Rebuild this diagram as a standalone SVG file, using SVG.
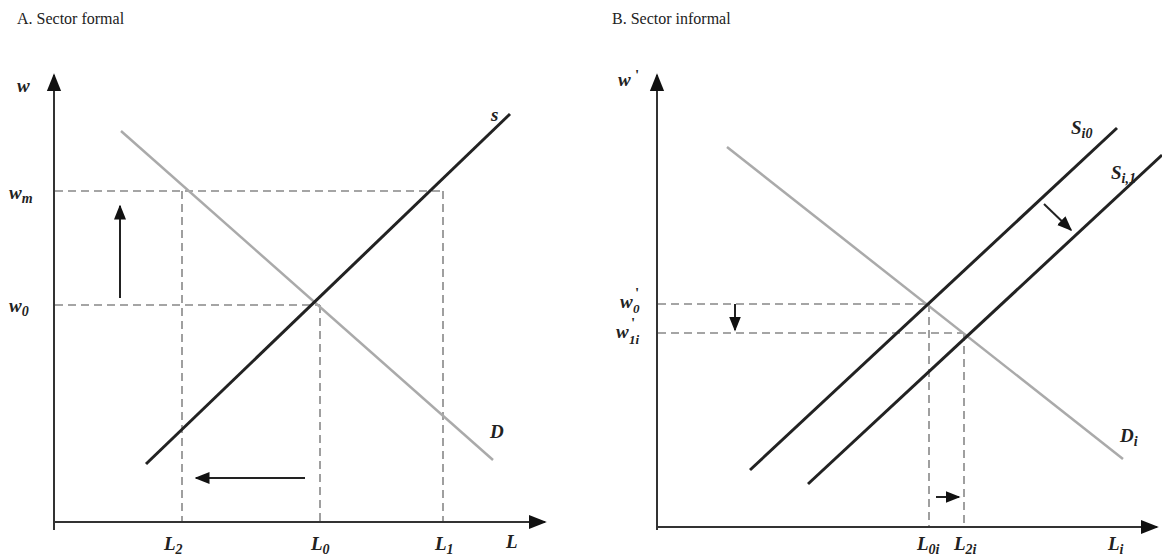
<svg xmlns="http://www.w3.org/2000/svg" width="1162" height="556" viewBox="0 0 1162 556">
<defs>
<marker id="axh" viewBox="0 0 10 10" refX="9" refY="5" markerWidth="18" markerHeight="18" markerUnits="userSpaceOnUse" orient="auto"><path d="M0,1 L10,5 L0,9 z" fill="#111"/></marker>
<marker id="sh" viewBox="0 0 10 10" refX="9" refY="5" markerWidth="15" markerHeight="15" markerUnits="userSpaceOnUse" orient="auto"><path d="M0,1 L10,5 L0,9 z" fill="#111"/></marker>
</defs>
<style>
.title{font-family:"Liberation Serif",serif;font-size:16px;fill:#222}
.lab{font-family:"Liberation Serif",serif;font-style:italic;font-weight:bold;font-size:19px;fill:#222}
.sub{font-size:14px}
.pr{font-family:"Liberation Serif",serif;font-weight:bold;font-size:15px;fill:#222}
.sb{font-family:"Liberation Serif",serif;font-style:italic;font-weight:bold;font-size:13px;fill:#222}
.axis{stroke:#333;stroke-width:2;fill:none}
.sup{stroke:#222;stroke-width:3;fill:none}
.dem{stroke:#aaa;stroke-width:2.5;fill:none}
.dash{stroke:#888;stroke-width:1.6;stroke-dasharray:8 5;fill:none}
.arr{stroke:#222;stroke-width:2;fill:none}
</style>
<rect width="1162" height="556" fill="#fff"/>
<text class="title" x="17" y="24">A. Sector formal</text>
<text class="title" x="612" y="24">B. Sector informal</text>

<g id="panelA">
<g id="A-connectors">
<line class="dash" x1="55" y1="191" x2="443" y2="191"/>
<line class="dash" x1="55" y1="305" x2="320" y2="305"/>
<line class="dash" x1="182" y1="191" x2="182" y2="521"/>
<line class="dash" x1="320" y1="305" x2="320" y2="521"/>
<line class="dash" x1="443" y1="191" x2="443" y2="521"/>
<line class="axis" x1="54" y1="530" x2="54" y2="75" marker-end="url(#axh)"/>
<line class="axis" x1="54" y1="522" x2="545" y2="522" marker-end="url(#axh)"/>
<line class="dem" x1="121" y1="131" x2="493" y2="460"/>
<line class="sup" x1="146" y1="464" x2="510" y2="114"/>
<line class="arr" x1="120" y1="298" x2="120" y2="206" marker-end="url(#sh)"/>
<line class="arr" x1="305" y1="478" x2="196" y2="478" marker-end="url(#sh)"/>
</g>
<g id="A-labels">
<text class="lab" x="17" y="92">w</text>
<text class="lab" x="9" y="199">w<tspan class="sub" dy="4">m</tspan></text>
<text class="lab" x="9" y="312">w<tspan class="sub" dy="4">0</tspan></text>
<text class="lab" x="491" y="121">s</text>
<text class="lab" x="490" y="438">D</text>
<text class="lab" x="164" y="550">L<tspan class="sub" dy="4">2</tspan></text>
<text class="lab" x="311" y="550">L<tspan class="sub" dy="4">0</tspan></text>
<text class="lab" x="435" y="550">L<tspan class="sub" dy="4">1</tspan></text>
<text class="lab" x="506" y="548">L</text>
</g>
</g>

<g id="panelB">
<g id="B-connectors">
<line class="dash" x1="658" y1="304" x2="929" y2="304"/>
<line class="dash" x1="658" y1="333" x2="964" y2="333"/>
<line class="dash" x1="929" y1="304" x2="929" y2="526"/>
<line class="dash" x1="964" y1="333" x2="964" y2="526"/>
<line class="axis" x1="657" y1="530" x2="657" y2="75" marker-end="url(#axh)"/>
<line class="axis" x1="657" y1="527" x2="1157" y2="527" marker-end="url(#axh)"/>
<line class="dem" x1="727" y1="147" x2="1123" y2="459"/>
<line class="sup" x1="750" y1="470" x2="1117" y2="128"/>
<line class="sup" x1="808" y1="484" x2="1162" y2="155"/>
<line class="arr" x1="1044" y1="204" x2="1071" y2="230" marker-end="url(#sh)"/>
<line class="arr" x1="735" y1="304" x2="735" y2="330" marker-end="url(#sh)"/>
<line class="arr" x1="936" y1="497" x2="959" y2="497" marker-end="url(#sh)"/>
</g>
<g id="B-labels">
<text class="lab" x="618" y="86">w</text>
<text class="pr" x="635" y="80">'</text>
<text class="lab" x="620" y="308">w</text>
<text class="pr" x="635" y="298">'</text>
<text class="sb" x="633" y="313">0</text>
<text class="lab" x="616" y="338">w</text>
<text class="pr" x="631" y="328">'</text>
<text class="sb" x="629" y="344">1i</text>
<text class="lab" x="1071" y="134">S<tspan class="sub" dy="4">i0</tspan></text>
<text class="lab" x="1111" y="179">S<tspan class="sub" dy="4">i,1</tspan></text>
<text class="lab" x="1120" y="442">D<tspan class="sub" dy="4">i</tspan></text>
<text class="lab" x="917" y="550">L<tspan class="sub" dy="4">0i</tspan></text>
<text class="lab" x="954" y="550">L<tspan class="sub" dy="4">2i</tspan></text>
<text class="lab" x="1108" y="550">L<tspan class="sub" dy="4">i</tspan></text>
</g>
</g>
</svg>
